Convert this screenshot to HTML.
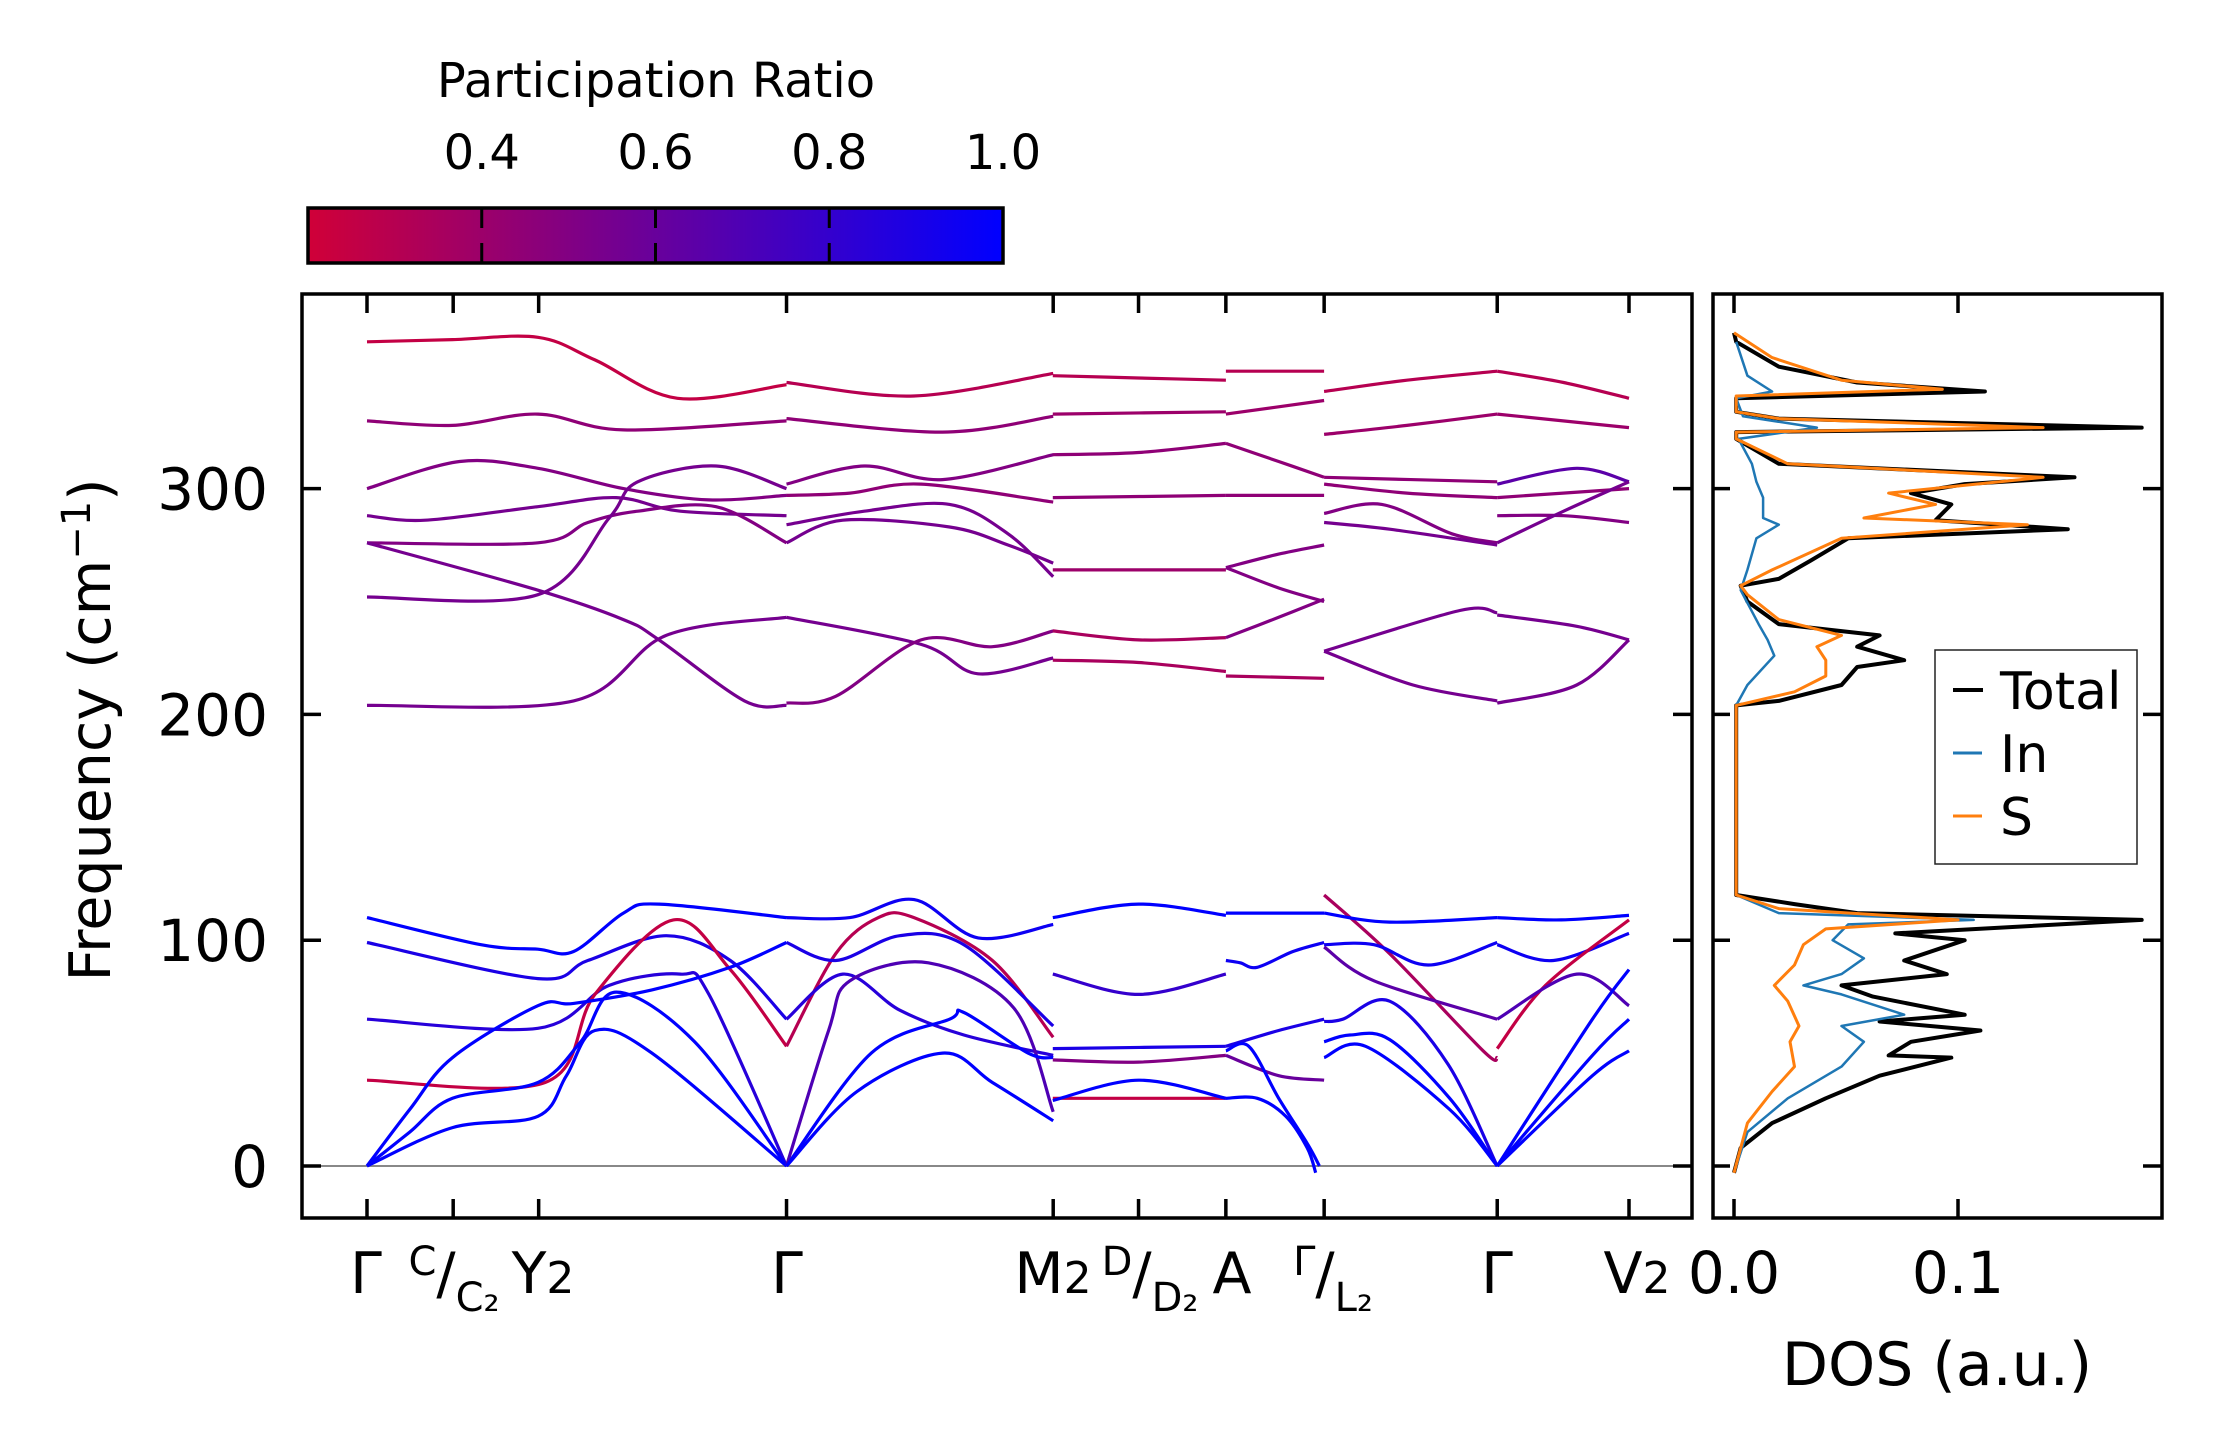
<!DOCTYPE html>
<html><head><meta charset="utf-8"><style>
html,body{margin:0;padding:0;background:#fff}
svg{display:block;font-family:"DejaVu Sans","Liberation Sans",sans-serif}
</style></head><body>
<svg id="fig" width="2222" height="1455" viewBox="0 0 2222 1455" xmlns="http://www.w3.org/2000/svg">
<defs>
<linearGradient id="prgrad" x1="0" x2="1" y1="0" y2="0">
<stop offset="0" stop-color="rgb(208,0,56)"/><stop offset="1" stop-color="rgb(0,0,255)"/>
</linearGradient>
<clipPath id="mainclip"><rect x="302" y="294" width="1390" height="924"/></clipPath>
<clipPath id="dosclip"><rect x="1713" y="294" width="449" height="924"/></clipPath>
</defs>
<g id="colorbar">
<text x="656" y="97" font-size="48" text-anchor="middle">Participation Ratio</text>
<rect x="308" y="208" width="695" height="55" fill="url(#prgrad)" stroke="#000" stroke-width="3.5"/>
</g>
<g id="main">
<line x1="302" x2="1692" y1="1166" y2="1166" stroke="#888" stroke-width="2"/>
<g id="bands" clip-path="url(#mainclip)"></g>
<rect x="302" y="294" width="1390" height="924" fill="none" stroke="#000" stroke-width="3.5"/>
<g id="mainticks"></g>
<text transform="translate(110,730) rotate(-90)" font-size="57" text-anchor="middle">Frequency (cm<tspan dy="-20" font-size="40">−1</tspan><tspan dy="20">)</tspan></text>
<g font-size="57" text-anchor="middle">
<text x="366" y="1293">Γ</text>
<text x="454" y="1293"><tspan font-size="40" dy="-18">C</tspan><tspan dy="18">/</tspan><tspan font-size="40" dy="18">C₂</tspan></text>
<text x="543" y="1293">Y<tspan font-size="44">2</tspan></text>
<text x="787" y="1293">Γ</text>
<text x="1053" y="1293">M<tspan font-size="44">2</tspan></text>
<text x="1150" y="1293"><tspan font-size="40" dy="-18">D</tspan><tspan dy="18">/</tspan><tspan font-size="40" dy="18">D₂</tspan></text>
<text x="1232" y="1293">A</text>
<text x="1333" y="1293"><tspan font-size="40" dy="-18">Γ</tspan><tspan dy="18">/</tspan><tspan font-size="40" dy="18">L₂</tspan></text>
<text x="1497" y="1293">Γ</text>
<text x="1637" y="1293">V<tspan font-size="44">2</tspan></text>
</g>
</g>
<g id="dospanel">
<g id="dos" clip-path="url(#dosclip)"></g>
<rect x="1713" y="294" width="449" height="924" fill="none" stroke="#000" stroke-width="3.5"/>
<g id="dosticks"></g>
<text x="1937" y="1385" font-size="60" text-anchor="middle">DOS (a.u.)</text>
<g>
<rect x="1935" y="650" width="202" height="214" fill="#fff" stroke="#222" stroke-width="1.5"/>
<line x1="1953" x2="1983" y1="690" y2="690" stroke="#000" stroke-width="4"/>
<text x="2000" y="709" font-size="52">Total</text>
<line x1="1953" x2="1982" y1="753" y2="753" stroke="#1f77b4" stroke-width="3"/>
<text x="2000" y="772" font-size="52">In</text>
<line x1="1953" x2="1982" y1="816" y2="816" stroke="#ff7f0e" stroke-width="3"/>
<text x="2000" y="835" font-size="52">S</text>
</g>
</g>
</svg>
<script>
// ---- data ----
const kTicks = [0, 60.5, 120.5, 294.5, 481.7, 541.6, 602.9, 671.9, 793.4, 885.9];
const freqTicks = [0, 100, 200, 300];
const freqTickLabels = ["0", "100", "200", "300"];
const prTicks = [0.4, 0.6, 0.8, 1.0];
const prTickLabels = ["0.4", "0.6", "0.8", "1.0"];
const dosTicks = [0, 0.1];
const dosTickLabels = ["0.0", "0.1"];

const bandK = [
[0,60,120,160,218,294.5],[0,60,120,180,294.5],[0,65,120,180,240,294.5],[0,41,120,175,220,294.5],
[0,120,155,190,245,294.5],[0,120,180,205,265,294.5],[0,120,170,190,245,294.5],[0,145,210,294.5],
[0,80,120,145,180,205,294.5],[0,120,155,210,255,294.5],[0,120,170,220,240,294.5],[0,125,160,215,255,294.5],
[0,30,60,120,145,200,255,294.5],[0,30,60,120,150,175,230,294.5],[0,60,120,140,160,200,294.5],
[294.5,384,481.7],[294.5,404,481.7],[294.5,349,404,481.7],[294.5,339,389,481.7],[294.5,349,409,450,481.7],
[294.5,334,409,450,481.7],[294.5,389,429,481.7],[294.5,329,389,439,481.7],[294.5,339,384,429,481.7],
[294.5,329,359,384,439,481.7],[294.5,329,374,419,481.7],[294.5,334,374,419,481.7],[294.5,324,339,394,454,481.7],
[294.5,354,409,419,464,481.7],[294.5,344,404,439,481.7],
[481.4,541.6,602.9],[481.4,602.9],[481.4,541.6,602.9],[481.4,602.9],[481.4,602.9],[481.4,541.6,602.9],
[481.4,541.6,602.9],[481.4,541.6,602.9],[481.4,541.6,602.9],[481.4,602.9],[481.4,541.6,602.9],[481.4,602.9],
[481.4,541.6,602.9],
[602.9,671.9],[602.9,671.9],[602.9,640,671.9],[602.9,671.9],[602.9,640,671.9],[602.9,640,671.9],
[602.9,640,671.9],[602.9,671.9],[602.9,671.9],[602.9,613,625,650,671.9],[602.9,640,671.9],[602.9,640,671.9],
[602.9,619,640,660,668.6],[602.9,625,645,660,666],
[671.9,730,793.4],[671.9,730,793.4],[671.9,793.4],[671.9,730,793.4],[671.9,712.4,761.6,793.4],[671.9,717.9,793.4],
[671.9,767.1,793.4],[671.9,734.3,793.4],[671.9,717.9,783.5,793.4],[671.9,717.9,793.4],[671.9,706.9,745.2,793.4],
[671.9,706.9,793.4],[671.9,685,717.9,758.9,793.4],[671.9,690,717.9,760,793.4],[671.9,701,760,793.4],
[793.4,840,885.9],[793.4,885.9],[793.4,849.2,885.9],[793.4,885.9],[793.4,840,885.9],[793.4,840,885.9],
[793.4,849.2,885.9],[793.4,849.2,885.9],[793.4,838.3,885.9],[793.4,832.8,885.9],[793.4,827.3,885.9],
[793.4,849.2,885.9],[793.4,860.2,885.9],[793.4,860.2,885.9],[793.4,860.2,885.9]
];
const bandF = [
[365,366,367,357,340,346],[330,328,333,326,330],[300,312,309,300,295,297],[288,286,292,296,290,288],
[276,276,285,290,292,276],[276,255,242,233,206,204],[252,253,287,303,310,300],[204,206,235,243],
[110,98,96,95,112,116,110],[99,83,91,102,91,65],[65,61,80,85,76,0],[38,37,76,109,87,53],
[0,25,48,71,72,78,88,99],[0,15,30,37,55,77,55,0],[0,17,22,40,60,50,0],
[347,341,351],[331,325,332],[302,310,304,315],[297,298,302,294],[284,290,293,280,261],
[276,286,283,275,267],[243,231,218,225],[205,208,233,230,237],[110,110,118,101,107],
[53,94,110,110,91,57],[99,91,102,98,62],[65,85,69,58,49],[0,60,82,90,70,24],
[0,50,65,68,50,48],[0,33,50,37,20],
[350,349,348],[333,334],[315,316,320],[296,297],[264,264],[237,233,234],
[224,223,219],[110,116,111],[85,76,85],[52,53],[47,46,49],[30,30],
[29,38,30],
[352,352],[333,339],[320,312,305],[297,297],[265,271,275],[265,256,250],
[234,243,251],[217,216],[112,112],[91,90,88,95,99],[53,60,65],[49,40,38],
[51,53,30,10,0],[30,30,22,8,-3],
[343,348,352],[324,328,333],[305,303],[302,298,296],[289,293,280,276],[285,282,275],
[228,246,245],[228,213,206],[120,94,51,48],[112,108,110],[98,98,89,99],
[97,82,65],[64,65,73,45,0],[55,58,56,30,0],[48,53,25,0],
[352,347,340],[333,327],[302,309,303],[296,300],[288,288,285],[276,290,303],
[244,239,233],[205,213,233],[110,109,111],[98,91,103],[52,80,109],
[65,85,71],[0,65,87],[0,49,65],[0,40,51]
];
const bandPR = [
0.25,0.45,0.5,0.55,0.5,0.55,0.55,0.55,1.0,0.9,0.85,0.25,1.0,1.0,1.0,
0.3,0.45,0.5,0.45,0.55,0.55,0.55,0.5,0.95,0.3,0.9,0.85,0.7,1.0,1.0,
0.3,0.4,0.45,0.45,0.4,0.35,0.35,1.0,0.8,0.9,0.5,0.25,1.0,
0.3,0.4,0.45,0.45,0.5,0.5,0.5,0.35,1.0,0.95,0.9,0.6,1.0,1.0,
0.3,0.4,0.45,0.45,0.5,0.55,0.55,0.55,0.35,1.0,0.95,0.65,0.9,1.0,1.0,
0.3,0.4,0.65,0.45,0.5,0.55,0.55,0.55,1.0,0.95,0.25,0.7,1.0,1.0,1.0
];

const dosTotalF = [-3,8,19,30,40,48,49,55,60,64,67,75,80,85,91,100,103,109,112,116,120,204,206,213,221,224,230,235,240,250,257,260,268,278,282,286,293,298,302,305,311,322,325,327,331,334,340,343,347,354,365,369];
const dosTotalV = [0,0.003,0.017,0.041,0.065,0.097,0.069,0.079,0.110,0.065,0.103,0.062,0.048,0.095,0.076,0.103,0.072,0.182,0.055,0.027,0.001,0.001,0.02,0.048,0.055,0.076,0.055,0.065,0.02,0.006,0.003,0.02,0.034,0.051,0.149,0.09,0.097,0.079,0.103,0.152,0.02,0.001,0.001,0.182,0.02,0.001,0.001,0.112,0.055,0.02,0.001,0];
const dosSF = [-3,19,33,44,55,62,73,80,89,98,105,109,114,120,204,210,217,224,230,235,242,253,257,264,278,284,287,293,298,305,311,322,325,327,331,334,341,344,348,358,369];
const dosSV = [0,0.006,0.017,0.027,0.025,0.029,0.024,0.018,0.027,0.031,0.041,0.1,0.02,0.001,0.001,0.027,0.041,0.041,0.037,0.048,0.02,0.006,0.003,0.017,0.048,0.131,0.058,0.09,0.069,0.138,0.024,0.001,0.001,0.138,0.02,0.001,0.001,0.093,0.048,0.017,0];
const dosInF = [-3,15,30,44,55,62,67,76,80,85,92,100,107,109,112,120,204,213,226,233,240,255,264,278,284,287,296,303,311,322,327,332,340,343,350,365];
const dosInV = [0,0.006,0.024,0.048,0.058,0.048,0.076,0.048,0.031,0.048,0.058,0.044,0.051,0.107,0.02,0.001,0.001,0.006,0.018,0.015,0.011,0.003,0.006,0.01,0.02,0.013,0.013,0.01,0.008,0.002,0.037,0.004,0.001,0.017,0.006,0.001];

// ---- scales ----
const NS = "http://www.w3.org/2000/svg";
function xK(k){ return 367 + k * (1629 - 367) / 885.9; }
function yF(f){ return 1166 - f * 2.258; }
function xD(v){ return 1734 + v * 2240; }
function xPR(p){ return 308 + (p - 0.2) * 695 / 0.8; }
function prColor(p){
  const t = Math.max(0, Math.min(1, (p - 0.2) / 0.8));
  const r = Math.round(208 * (1 - t)), b = Math.round(56 + (255 - 56) * t);
  return `rgb(${r},0,${b})`;
}
function smoothPath(pts){
  let d = `M${pts[0][0].toFixed(1)},${pts[0][1].toFixed(1)}`;
  for (let i = 0; i < pts.length - 1; i++){
    const p0 = pts[Math.max(0, i - 1)], p1 = pts[i], p2 = pts[i + 1], p3 = pts[Math.min(pts.length - 1, i + 2)];
    const c1 = [p1[0] + (p2[0] - p0[0]) / 6, p1[1] + (p2[1] - p0[1]) / 6];
    const c2 = [p2[0] - (p3[0] - p1[0]) / 6, p2[1] - (p3[1] - p1[1]) / 6];
    d += ` C${c1[0].toFixed(1)},${c1[1].toFixed(1)} ${c2[0].toFixed(1)},${c2[1].toFixed(1)} ${p2[0].toFixed(1)},${p2[1].toFixed(1)}`;
  }
  return d;
}
function mk(tag, attrs, parent){
  const el = document.createElementNS(NS, tag);
  for (const a in attrs) el.setAttribute(a, attrs[a]);
  parent.appendChild(el);
  return el;
}

// ---- bands ----
const gB = document.getElementById('bands');
for (let i = 0; i < bandK.length; i++){
  const pts = bandK[i].map((k, j) => [xK(k), yF(bandF[i][j])]);
  const el = mk('path', {d: smoothPath(pts), fill: 'none', stroke: prColor(bandPR[i]), 'stroke-width': 3.2}, gB);
  
  
}

// ---- main ticks ----
const gT = document.getElementById('mainticks');
kTicks.forEach(k => {
  const x = xK(k);
  const t1 = mk('line', {x1: x, x2: x, y1: 294, y2: 313, stroke: '#000', 'stroke-width': 3.5}, gT);
  
  
  const t2 = mk('line', {x1: x, x2: x, y1: 1218, y2: 1199, stroke: '#000', 'stroke-width': 3.5}, gT);
  
  
});
freqTicks.forEach((f, i) => {
  const y = yF(f);
  const a = mk('line', {x1: 302, x2: 321, y1: y, y2: y, stroke: '#000', 'stroke-width': 3.5}, gT);
  
  
  const b = mk('line', {x1: 1673, x2: 1692, y1: y, y2: y, stroke: '#000', 'stroke-width': 3.5}, gT);
  
  
  const tx = mk('text', {x: 268, y: y + 21, 'font-size': 58, 'text-anchor': 'end'}, gT);
  
  
  tx.textContent = freqTickLabels[i];
});

// ---- colorbar ticks ----
const gC = document.getElementById('colorbar');
prTicks.forEach((p, i) => {
  const x = xPR(p);
  if (p < 1.0){
    const l1 = mk('line', {x1: x, x2: x, y1: 208, y2: 228, stroke: '#000', 'stroke-width': 3}, gC);
    
    
    const l2 = mk('line', {x1: x, x2: x, y1: 243, y2: 263, stroke: '#000', 'stroke-width': 3}, gC);
    
    
  }
  const t = mk('text', {x: x, y: 169, 'font-size': 48, 'text-anchor': 'middle'}, gC);
  
  
  t.textContent = prTickLabels[i];
});

// ---- DOS ----
const gD = document.getElementById('dos');
function dosLine(F, V, color, w, name){
  const pts = F.map((f, i) => `${xD(V[i]).toFixed(1)},${yF(f).toFixed(1)}`).join(' ');
  const el = mk('polyline', {points: pts, fill: 'none', stroke: color, 'stroke-width': w, 'stroke-linejoin': 'round'}, gD);
  
  
}
dosLine(dosTotalF, dosTotalV, '#000', 4, 'dos-total-line');
dosLine(dosInF, dosInV, '#1f77b4', 2.5, 'dos-in-line');
dosLine(dosSF, dosSV, '#ff7f0e', 3, 'dos-s-line');

const gDT = document.getElementById('dosticks');
dosTicks.forEach((v, i) => {
  const x = xD(v);
  const a = mk('line', {x1: x, x2: x, y1: 294, y2: 313, stroke: '#000', 'stroke-width': 3.5}, gDT);
  
  
  const b = mk('line', {x1: x, x2: x, y1: 1218, y2: 1199, stroke: '#000', 'stroke-width': 3.5}, gDT);
  
  
  const t = mk('text', {x: x, y: 1293, 'font-size': 58, 'text-anchor': 'middle'}, gDT);
  
  
  t.textContent = dosTickLabels[i];
});
freqTicks.forEach(f => {
  const y = yF(f);
  const a = mk('line', {x1: 1713, x2: 1730, y1: y, y2: y, stroke: '#000', 'stroke-width': 3.5}, gDT);
  
  
  const b = mk('line', {x1: 2143, x2: 2162, y1: y, y2: y, stroke: '#000', 'stroke-width': 3.5}, gDT);
  
  
});
</script>
</body></html>
